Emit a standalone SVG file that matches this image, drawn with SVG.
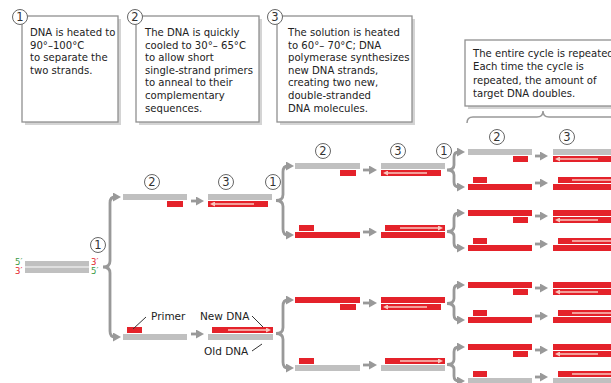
<svg xmlns="http://www.w3.org/2000/svg" width="611" height="383" viewBox="0 0 611 383">
<defs>
<marker id="ah" viewBox="0 0 8 9" refX="2" refY="4.5" markerWidth="8" markerHeight="9" markerUnits="userSpaceOnUse" orient="auto-start-reverse"><path d="M0,0 L8,4.5 L0,9 z" fill="#999"/></marker>
<marker id="pa" viewBox="0 0 5 5" refX="1" refY="2.5" markerWidth="5" markerHeight="5" markerUnits="userSpaceOnUse" orient="auto"><path d="M0,0 L5,2.5 L0,5 z" fill="#f9c8bf"/></marker>
<style>
.g{fill:#c0c0c0}
.r{fill:#e4222a}
.pk{fill:none;stroke:#f9c8bf;stroke-width:1.4;marker-end:url(#pa)}
.con{fill:none;stroke:#999;stroke-width:2.8;marker-end:url(#ah)}
.br{fill:none;stroke:#999;stroke-width:2.8;marker-start:url(#ah);marker-end:url(#ah)}
.box{fill:#fff;stroke:#909090;stroke-width:1.3}
.sh{fill:#d4d4d4}
.t{font-family:"DejaVu Sans",sans-serif;font-size:10.1px;fill:#222}
.lab{font-family:"DejaVu Sans",sans-serif;font-size:10.5px;fill:#222}
.num circle{fill:#fff;stroke:#666;stroke-width:1}
.num text{font-family:"DejaVu Sans",sans-serif;font-size:11.5px;fill:#333;text-anchor:middle}
.ld{stroke:#333;stroke-width:1}
.p5{font-family:"DejaVu Sans",sans-serif;font-size:8.5px;fill:#3a9a46}
.p3{font-family:"DejaVu Sans",sans-serif;font-size:8.5px;fill:#e4222a}
.bb{fill:none;stroke:#999;stroke-width:1.5}
</style>
</defs>

<!-- Text boxes -->
<g id="box1">
<rect class="sh" x="25" y="19" width="96" height="106"/>
<rect class="box" x="22" y="16" width="96" height="106"/>
<text class="t" x="30"><tspan x="30" y="36">DNA is heated to</tspan><tspan x="30" y="48.6">90°–100°C</tspan><tspan x="30" y="61.2">to separate the</tspan><tspan x="30" y="73.8">two strands.</tspan></text>
<g class="num"><circle cx="20" cy="17" r="7.5"/><text x="20" y="21.2">1</text></g>
</g>
<g id="box2">
<rect class="sh" x="139" y="19" width="123" height="106"/>
<rect class="box" x="136" y="16" width="123" height="106"/>
<text class="t"><tspan x="145" y="36">The DNA is quickly</tspan><tspan x="145" y="48.6">cooled to 30°– 65°C</tspan><tspan x="145" y="61.2">to allow short</tspan><tspan x="145" y="73.8">single-strand primers</tspan><tspan x="145" y="86.4">to anneal to their</tspan><tspan x="145" y="99">complementary</tspan><tspan x="145" y="111.6">sequences.</tspan></text>
<g class="num"><circle cx="135" cy="17" r="7.5"/><text x="135" y="21.2">2</text></g>
</g>
<g id="box3">
<rect class="sh" x="280" y="19" width="135" height="106"/>
<rect class="box" x="277" y="16" width="135" height="106"/>
<text class="t"><tspan x="288" y="36">The solution is heated</tspan><tspan x="288" y="48.6">to 60°– 70°C; DNA</tspan><tspan x="288" y="61.2">polymerase synthesizes</tspan><tspan x="288" y="73.8">new DNA strands,</tspan><tspan x="288" y="86.4">creating two new,</tspan><tspan x="288" y="99">double-stranded</tspan><tspan x="288" y="111.6">DNA molecules.</tspan></text>
<g class="num"><circle cx="275" cy="17" r="7.5"/><text x="275" y="21.2">3</text></g>
</g>
<g id="box4">
<rect class="sh" x="468" y="43" width="160" height="66"/>
<rect class="box" x="465" y="40" width="160" height="66"/>
<text class="t"><tspan x="473" y="57">The entire cycle is repeated.</tspan><tspan x="473" y="70.3">Each time the cycle is</tspan><tspan x="473" y="83.6">repeated, the amount of</tspan><tspan x="473" y="97">target DNA doubles.</tspan></text>
<path class="bb" d="M467,123 Q467,117 473,117 L537,117 Q543,117 543,111 Q543,117 549,117 L620,117"/>
</g>

<!-- Step number circles -->
<g id="steps" class="num">
<circle cx="98" cy="245" r="7.5"/><text x="98" y="249.2">1</text>
<circle cx="152" cy="182" r="7.5"/><text x="152" y="186.2">2</text>
<circle cx="226" cy="182" r="7.5"/><text x="226" y="186.2">3</text>
<circle cx="273" cy="182" r="7.5"/><text x="273" y="186.2">1</text>
<circle cx="323" cy="151" r="7.5"/><text x="323" y="155.2">2</text>
<circle cx="398" cy="151" r="7.5"/><text x="398" y="155.2">3</text>
<circle cx="444" cy="151" r="7.5"/><text x="444" y="155.2">1</text>
<circle cx="497" cy="137" r="7.5"/><text x="497" y="141.2">2</text>
<circle cx="567" cy="137" r="7.5"/><text x="567" y="141.2">3</text>
</g>

<!-- Initial DNA -->
<g id="dna0">
<rect class="g" x="25" y="261" width="64" height="5.5"/>
<rect class="g" x="25" y="267.5" width="64" height="5.5"/>
<text class="p5" x="15" y="265">5′</text>
<text class="p3" x="15" y="273.5">3′</text>
<text class="p3" x="91" y="265">3′</text>
<text class="p5" x="91" y="273.5">5′</text>
</g>

<!-- Level 1 -->
<g id="l1a2"><rect class="g" x="123" y="194" width="64" height="6"/><rect class="r" x="167" y="201" width="16" height="6"/></g>
<g id="l1a3"><rect class="g" x="208" y="194" width="64" height="6"/><rect class="r" x="208" y="201" width="60" height="6"/><path class="pk" d="M254,204 L214,204"/></g>
<g id="l1b2"><rect class="r" x="127" y="327" width="15" height="6"/><rect class="g" x="123" y="334" width="64" height="6"/>
<text class="lab" x="151" y="320">Primer</text><line class="ld" x1="146" y1="317" x2="133" y2="329"/></g>
<g id="l1b3"><rect class="r" x="212" y="327" width="61" height="6"/><rect class="g" x="208" y="334" width="65" height="6"/><path class="pk" d="M228,330 L267,330"/>
<text class="lab" x="200" y="320">New DNA</text><line class="ld" x1="252" y1="316" x2="263" y2="327"/>
<text class="lab" x="204" y="355">Old DNA</text><line class="ld" x1="252" y1="351" x2="262" y2="344"/></g>

<!-- Level 2 -->
<g id="l2a2"><rect class="g" x="295" y="163" width="65" height="6"/><rect class="r" x="340" y="170" width="16" height="6"/></g>
<g id="l2a3"><rect class="g" x="381" y="163" width="64" height="6"/><rect class="r" x="381" y="170" width="60" height="6"/><path class="pk" d="M427,173 L387,173"/></g>
<g id="l2b2"><rect class="r" x="299" y="225" width="15" height="6"/><rect class="r" x="295" y="232" width="65" height="6"/></g>
<g id="l2b3"><rect class="r" x="385" y="225" width="60" height="6"/><rect class="r" x="381" y="232" width="64" height="6"/><path class="pk" d="M400,228 L439,228"/></g>
<g id="l2c2"><rect class="r" x="295" y="297" width="65" height="6"/><rect class="r" x="340" y="304" width="16" height="6"/></g>
<g id="l2c3"><rect class="r" x="381" y="297" width="64" height="6"/><rect class="r" x="381" y="304" width="60" height="6"/><path class="pk" d="M427,307 L387,307"/></g>
<g id="l2d2"><rect class="r" x="299" y="358" width="15" height="6"/><rect class="g" x="295" y="365" width="65" height="6"/></g>
<g id="l2d3"><rect class="r" x="385" y="358" width="60" height="6"/><rect class="g" x="381" y="365" width="64" height="6"/><path class="pk" d="M400,361 L439,361"/></g>

<!-- Level 3 -->
<g id="l3r1"><rect class="g" x="468" y="149" width="64" height="6"/><rect class="r" x="513" y="156" width="15" height="6"/>
<rect class="g" x="553" y="149" width="70" height="6"/><rect class="r" x="553" y="156" width="70" height="6"/><path class="pk" d="M598,159 L559,159"/></g>
<g id="l3r2"><rect class="r" x="473" y="177" width="14" height="6"/><rect class="r" x="468" y="184" width="64" height="6"/>
<rect class="r" x="558" y="177" width="65" height="6"/><rect class="r" x="553" y="184" width="70" height="6"/><path class="pk" d="M572,180 L620,180"/></g>
<g id="l3r3"><rect class="r" x="468" y="210" width="64" height="6"/><rect class="r" x="513" y="217" width="15" height="6"/>
<rect class="r" x="553" y="210" width="70" height="6"/><rect class="r" x="553" y="217" width="70" height="6"/><path class="pk" d="M598,220 L559,220"/></g>
<g id="l3r4"><rect class="r" x="473" y="238" width="14" height="6"/><rect class="r" x="468" y="245" width="64" height="6"/>
<rect class="r" x="558" y="238" width="65" height="6"/><rect class="r" x="553" y="245" width="70" height="6"/><path class="pk" d="M572,241 L620,241"/></g>
<g id="l3r5"><rect class="r" x="468" y="282" width="64" height="6"/><rect class="r" x="513" y="289" width="15" height="6"/>
<rect class="r" x="553" y="282" width="70" height="6"/><rect class="r" x="553" y="289" width="70" height="6"/><path class="pk" d="M598,292 L559,292"/></g>
<g id="l3r6"><rect class="r" x="473" y="310" width="14" height="6"/><rect class="r" x="468" y="317" width="64" height="6"/>
<rect class="r" x="558" y="310" width="65" height="6"/><rect class="r" x="553" y="317" width="70" height="6"/><path class="pk" d="M572,313 L620,313"/></g>
<g id="l3r7"><rect class="r" x="468" y="344" width="64" height="6"/><rect class="r" x="513" y="351" width="15" height="6"/>
<rect class="r" x="553" y="344" width="70" height="6"/><rect class="r" x="553" y="351" width="70" height="6"/><path class="pk" d="M598,354 L559,354"/></g>
<g id="l3r8"><rect class="r" x="473" y="371" width="14" height="6"/><rect class="g" x="468" y="378" width="64" height="6"/>
<rect class="r" x="558" y="371" width="65" height="6"/><rect class="g" x="553" y="378" width="70" height="6"/><path class="pk" d="M572,374 L620,374"/></g>

<!-- Connectors -->
<g id="connectors">
<path class="br" d="M115,197 Q110,197 110,203 L110,261 Q110,267 103,267 Q110,267 110,273 L110,331 Q110,337 115,337"/>
<path class="br" d="M288,166 Q283,166 283,172 L283,194.5 Q283,200.5 276,200.5 Q283,200.5 283,206.5 L283,229 Q283,235 288,235"/>
<path class="br" d="M288,300 Q283,300 283,306 L283,327.5 Q283,333.5 276,333.5 Q283,333.5 283,339.5 L283,362 Q283,368 288,368"/>
<path class="br" d="M459,152 Q454,152 454,157 L454,165 Q454,170 447,170 Q454,170 454,175 L454,182 Q454,187 459,187"/>
<path class="br" d="M459,213 Q454,213 454,218 L454,226.5 Q454,231.5 447,231.5 Q454,231.5 454,236.5 L454,243 Q454,248 459,248"/>
<path class="br" d="M459,285 Q454,285 454,290 L454,298.5 Q454,303.5 447,303.5 Q454,303.5 454,308.5 L454,315 Q454,320 459,320"/>
<path class="br" d="M459,347 Q454,347 454,352 L454,359.5 Q454,364.5 447,364.5 Q454,364.5 454,369.5 L454,376 Q454,381 459,381"/>
<line class="con" x1="191" y1="201" x2="198" y2="201"/>
<line class="con" x1="191" y1="334" x2="198" y2="334"/>
<line class="con" x1="363" y1="170" x2="371" y2="170"/>
<line class="con" x1="363" y1="232" x2="371" y2="232"/>
<line class="con" x1="363" y1="303" x2="371" y2="303"/>
<line class="con" x1="363" y1="365" x2="371" y2="365"/>
<line class="con" x1="535" y1="156" x2="542" y2="156"/>
<line class="con" x1="535" y1="183" x2="542" y2="183"/>
<line class="con" x1="535" y1="216" x2="542" y2="216"/>
<line class="con" x1="535" y1="244" x2="542" y2="244"/>
<line class="con" x1="535" y1="288" x2="542" y2="288"/>
<line class="con" x1="535" y1="316" x2="542" y2="316"/>
<line class="con" x1="535" y1="350" x2="542" y2="350"/>
<line class="con" x1="535" y1="377" x2="542" y2="377"/>
</g>
</svg>
